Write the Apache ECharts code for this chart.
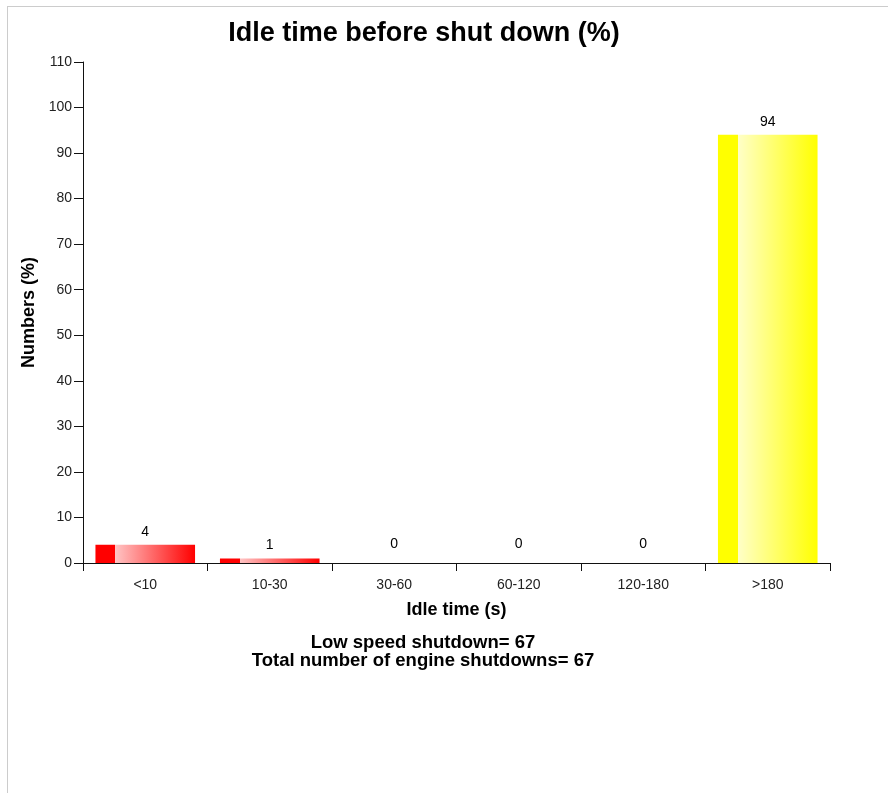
<!DOCTYPE html>
<html>
<head>
<meta charset="utf-8">
<script src="https://cdn.jsdelivr.net/npm/echarts@6/dist/echarts.min.js"></script>
<style>
  body { margin: 0; background: #fff; }
  #frame { position: absolute; left: 7px; top: 6px; width: 900px; height: 800px;
           border-left: 1px solid #cccccc; border-top: 1px solid #cccccc; }
  #main { position: absolute; left: 0; top: 0; width: 888px; height: 793px; }
</style>
</head>
<body>
<div id="frame"></div>
<div id="main"></div>
<script>
// categories and values
var idleBins = ['<10', '10-30', '30-60', '60-120', '120-180', '>180'];
var idlePercent = [4, 1, 0, 0, 0, 94];
var barColors = ['#ff0000', '#ff0000', '#ff0000', '#ff0000', '#ff0000', '#ffff00'];
var lightColors = ['#ffc4c4', '#ffc4c4', '#ffc4c4', '#ffc4c4', '#ffc4c4', '#ffffc8'];
var lowSpeedShutdown = 67;
var totalShutdowns = 67;

function shade(c, light) {
    // solid strip on the left, then light to full colour
    return new echarts.graphic.LinearGradient(0, 0, 1, 0, [
        {offset: 0, color: c},
        {offset: 0.2, color: c},
        {offset: 0.2, color: light},
        {offset: 1, color: c}
    ]);
}

function drawIdleChart() {
    var myChart = echarts.init(document.getElementById('main'));

    var barData = idlePercent.map(function (v, i) {
        return {
            value: v,
            itemStyle: {color: shade(barColors[i], lightColors[i])},
            label: {distance: v === 0 ? 12 : 6}
        };
    });

    var option = {
        animation: false,
        title: {
            text: 'Idle time before shut down (%)',
            left: 419,
            top: 15,
            textAlign: 'center',
            textStyle: {
                color: '#000',
                fontFamily: 'Arial',
                fontWeight: 'bold',
                fontSize: 27
            }
        },
        grid: {
            left: 83,
            right: 58,
            top: 62,
            bottom: 230,
            containLabel: false
        },
        xAxis: {
            type: 'category',
            data: idleBins,
            name: 'Idle time (s)',
            nameLocation: 'middle',
            nameGap: 38,
            nameTextStyle: {color: '#000', fontFamily: 'Arial', fontWeight: 'bold', fontSize: 18},
            axisLine: {lineStyle: {color: '#111', width: 1}},
            axisTick: {show: true, length: 8, alignWithLabel: false, lineStyle: {color: '#111'}},
            axisLabel: {color: '#222', fontFamily: 'Arial', fontSize: 14, margin: 15}
        },
        yAxis: {
            type: 'value',
            min: 0,
            max: 110,
            interval: 10,
            name: 'Numbers (%)',
            nameLocation: 'middle',
            nameGap: 42,
            nameTextStyle: {color: '#000', fontFamily: 'Arial', fontWeight: 'bold', fontSize: 18},
            axisLine: {show: true, lineStyle: {color: '#111', width: 1}},
            axisTick: {show: true, length: 9, lineStyle: {color: '#111'}},
            axisLabel: {color: '#222', fontFamily: 'Arial', fontSize: 14, margin: 11},
            splitLine: {show: false}
        },
        series: [
            {
                name: 'Idle time',
                type: 'bar',
                barCategoryGap: '20%',
                label: {
                    show: true,
                    position: 'top',
                    color: '#000',
                    fontFamily: 'Arial',
                    fontSize: 14
                },
                data: barData
            }
        ],
        graphic: [
            {
                type: 'text',
                x: 423,
                y: 634,
                style: {
                    text: 'Low speed shutdown= ' + lowSpeedShutdown +
                          '\nTotal number of engine shutdowns= ' + totalShutdowns,
                    textAlign: 'center',
                    fill: '#000',
                    font: 'bold 18.5px Arial',
                    lineHeight: 18
                }
            }
        ]
    };

    myChart.setOption(option);
}

drawIdleChart();
</script>
</body>
</html>
